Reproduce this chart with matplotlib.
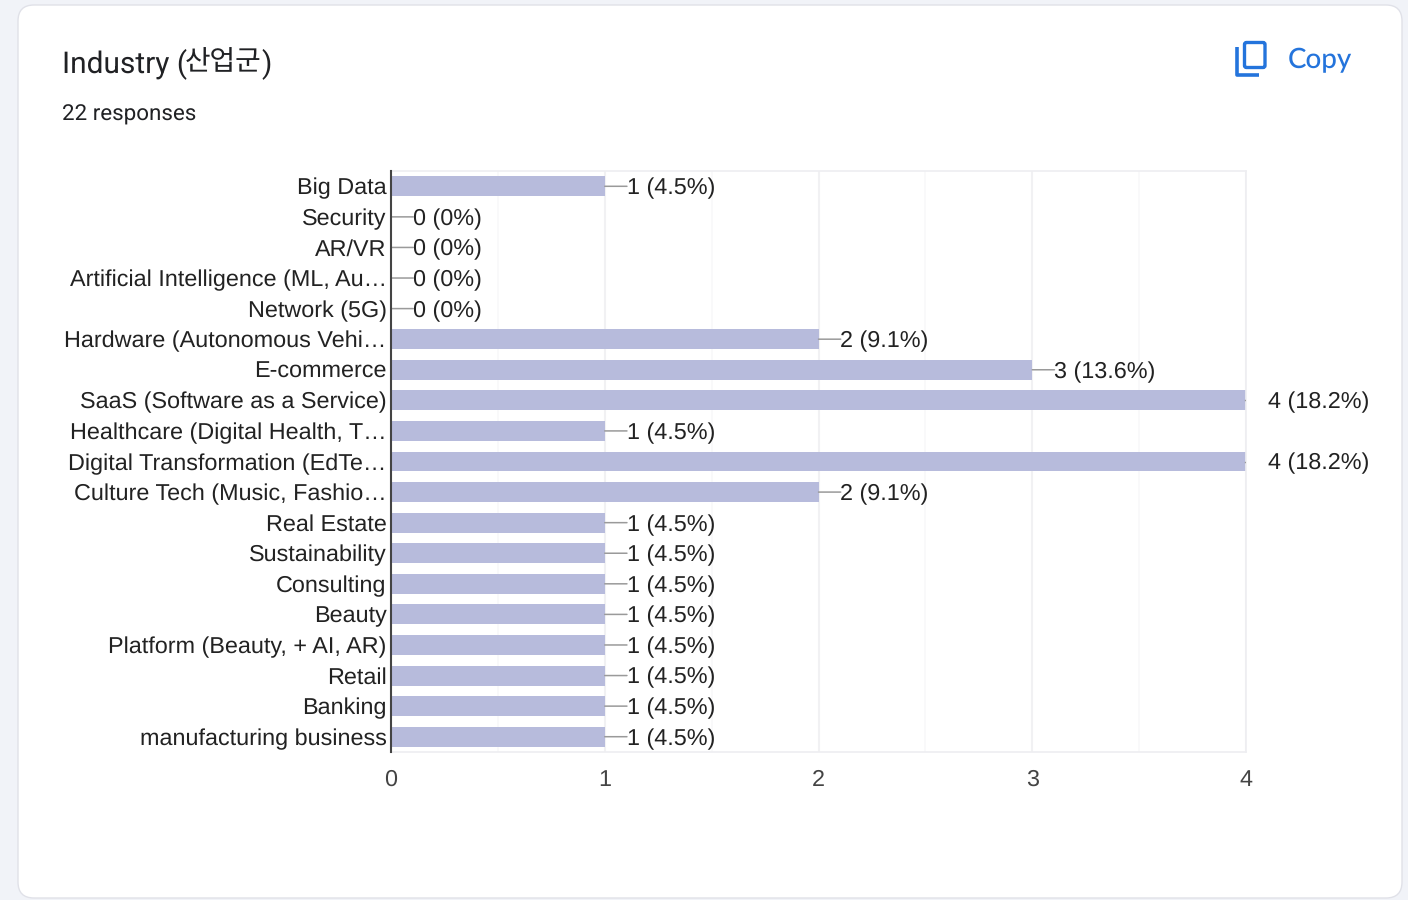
import numpy as np
import matplotlib
matplotlib.use('Agg')
import matplotlib.pyplot as plt
from matplotlib.patches import FancyBboxPatch

# Chart data
categories = ['Big Data', 'Security', 'AR/VR', 'Artificial Intelligence (ML, Au…',
              'Network (5G)', 'Hardware (Autonomous Vehi…', 'E-commerce',
              'SaaS (Software as a Service)', 'Healthcare (Digital Health, T…',
              'Digital Transformation (EdTe…', 'Culture Tech (Music, Fashio…',
              'Real Estate', 'Sustainability', 'Consulting', 'Beauty',
              'Platform (Beauty, + AI, AR)', 'Retail', 'Banking', 'manufacturing business']
counts = [1, 0, 0, 0, 0, 2, 3, 4, 1, 4, 2, 1, 1, 1, 1, 1, 1, 1, 1]
percent_labels = ['4.5%', '0%', '0%', '0%', '0%', '9.1%', '13.6%', '18.2%', '4.5%', '18.2%',
                  '9.1%', '4.5%', '4.5%', '4.5%', '4.5%', '4.5%', '4.5%', '4.5%', '4.5%']
major_ticks = [0, 1, 2, 3, 4]
minor_ticks = [0.5, 1.5, 2.5, 3.5]

W, H = 1408, 900
BLUE = '#2474dc'
LABEL_FONT = 'Liberation Sans'
plt.rcParams['text.hinting'] = 'none'

fig = plt.figure(figsize=(W / 100, H / 100), dpi=100, facecolor='#f1f3f8')

# Card, header and copy icon live in a pixel-coordinate layer
bg = fig.add_axes([0, 0, 1, 1], zorder=0)
bg.set_xlim(0, W)
bg.set_ylim(H, 0)
bg.axis('off')
bg.add_patch(FancyBboxPatch((18, 5), 1384, 893, boxstyle='round,pad=0,rounding_size=16',
                            facecolor='white', edgecolor='#e0e1e8', linewidth=1))

# Title is split up because the Hangul is set narrower than the Latin part
bg.text(62, 64, 'Industry (', family='Roboto', fontsize=21.5, color='#202124',
        ha='left', va='center')
bg.text(185, 62, '산업군', family='Noto Sans CJK KR', fontsize=20, color='#202124',
        ha='left', va='center')
bg.text(261, 64, ')', family='Roboto', fontsize=21.5, color='#202124', ha='left', va='center')
bg.text(62, 114.5, '22 responses', family='Roboto', fontsize=16.1, color='#202124',
        ha='left', va='center')

bg.add_patch(FancyBboxPatch((1244.5, 42.5), 20.5, 25, boxstyle='round,pad=0,rounding_size=2',
                            facecolor='none', edgecolor=BLUE, linewidth=2.4))
bg.plot([1236.5, 1236.5, 1259], [47, 75, 75], color=BLUE, linewidth=2.6,
        solid_joinstyle='round', solid_capstyle='butt')
bg.text(1288, 60, 'Copy', family='Lato', fontsize=20, fontweight='medium', color=BLUE,
        ha='left', va='center')

# Bar chart
ax = fig.add_axes([391 / W, 1 - 752 / H, (1246 - 391) / W, (752 - 171) / H], zorder=1)
ax.patch.set_alpha(0)
y = np.arange(len(categories))
ax.set_xlim(0, 4)
ax.set_ylim(len(categories) - 0.5, -0.5)

for v in minor_ticks:
    ax.axvline(v, color='#f8f8fa', linewidth=1.2, zorder=1)
for v in major_ticks[1:]:
    ax.axvline(v, color='#f1f1f3', linewidth=1.5, zorder=1)

ax.barh(y, counts, height=20 / 30.6, color='#b7bbdc', zorder=2)

for i, (count, pct) in enumerate(zip(counts, percent_labels)):
    if count < 4:
        ax.annotate('', xy=(count, i), xytext=(16, 0), textcoords='offset points',
                    arrowprops=dict(arrowstyle='-', color='#9a9a9a', linewidth=1.1,
                                    shrinkA=0, shrinkB=0), annotation_clip=False, zorder=3)
    else:
        # no room for the leader line, only a stub at the plot edge
        ax.plot([count - 0.005, count], [i, i], color='#9a9a9a', linewidth=1, zorder=3)
    ax.annotate(f'{count} ({pct})', xy=(count, i), xytext=(15.7, -1.6),
                textcoords='offset points', family=LABEL_FONT, fontsize=16.8, color='#222222',
                ha='left', va='center', annotation_clip=False)

for side in ['top', 'bottom', 'right']:
    ax.spines[side].set_color('#eeeef1')
    ax.spines[side].set_linewidth(1.2)
ax.spines['left'].set_color('#444444')
ax.spines['left'].set_linewidth(1.5)
ax.spines['left'].set_zorder(4)

ax.set_yticks(y)
ax.set_yticklabels(categories, family=LABEL_FONT, fontsize=16.8, color='#222222')
ax.set_xticks(major_ticks)
ax.set_xticklabels([str(t) for t in major_ticks], family=LABEL_FONT, fontsize=16.8, color='#444444')
ax.tick_params(axis='y', length=0, pad=3.2)
ax.tick_params(axis='x', length=0, pad=12.5)

plt.savefig('out.png', dpi=100, facecolor=fig.get_facecolor())
plt.close()
